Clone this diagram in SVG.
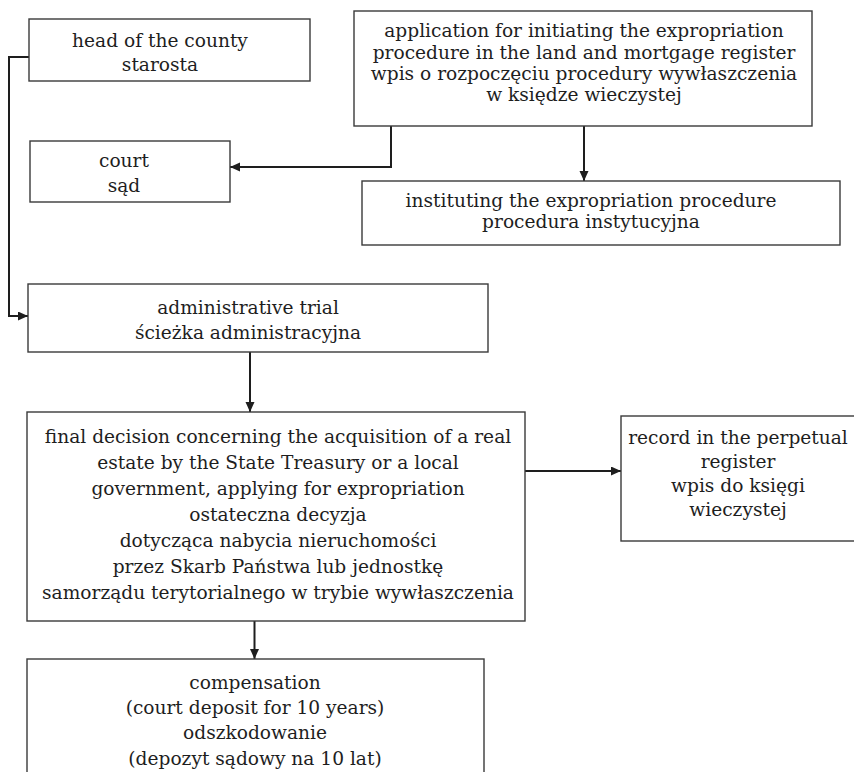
<svg xmlns="http://www.w3.org/2000/svg" width="854" height="772" viewBox="0 0 854 772">
  <style>
    .box { fill: #ffffff; stroke: #3a3a3a; stroke-width: 1.4; }
    .lbl { font-family: "DejaVu Serif", "Liberation Serif", serif; font-size: 18.6px; fill: #1e1e1e; text-anchor: middle; }
    .wire { fill: none; stroke: #1e1e1e; stroke-width: 2; marker-end: url(#head); }
  </style>
  <defs>
    <marker id="head" markerUnits="userSpaceOnUse" markerWidth="11" markerHeight="10" refX="10" refY="4.5" orient="auto">
      <path d="M0,0 L10,4.5 L0,9 z" fill="#1e1e1e"/>
    </marker>
  </defs>
  <rect width="854" height="772" fill="#ffffff"/>

  <g id="connectors">
    <path class="wire" d="M29,57 H9 V316 H28"/>
    <path class="wire" d="M391,126 V167 H230"/>
    <path class="wire" d="M584,126 V181"/>
    <path class="wire" d="M250,352 V412"/>
    <path class="wire" d="M525,471 H621"/>
    <path class="wire" d="M254.5,621 V659"/>
    <path class="wire" d="M482,508 V551"/>
  </g>

  <g id="starosta">
    <rect class="box" x="29" y="19" width="281" height="62"/>
    <text class="lbl" x="160" y="47">head of the county</text>
    <text class="lbl" x="160" y="71">starosta</text>
  </g>

  <g id="application">
    <rect class="box" x="354" y="11" width="458" height="115"/>
    <text class="lbl" x="584" y="37">application for initiating the expropriation</text>
    <text class="lbl" x="584" y="59">procedure in the land and mortgage register</text>
    <text class="lbl" x="584" y="80">wpis o rozpoczęciu procedury wywłaszczenia</text>
    <text class="lbl" x="584" y="101">w księdze wieczystej</text>
  </g>

  <g id="court">
    <rect class="box" x="30" y="141" width="200" height="61"/>
    <text class="lbl" x="124" y="167">court</text>
    <text class="lbl" x="124" y="192">sąd</text>
  </g>

  <g id="instituting">
    <rect class="box" x="362" y="181" width="478" height="64"/>
    <text class="lbl" x="591" y="207">instituting the expropriation procedure</text>
    <text class="lbl" x="591" y="228">procedura instytucyjna</text>
  </g>

  <g id="administrative">
    <rect class="box" x="28" y="284" width="460" height="68"/>
    <text class="lbl" x="248" y="314">administrative trial</text>
    <text class="lbl" x="248" y="339">ścieżka administracyjna</text>
  </g>

  <g id="decision">
    <rect class="box" x="27" y="412" width="498" height="209"/>
    <text class="lbl" x="278" y="443">final decision concerning the acquisition of a real</text>
    <text class="lbl" x="278" y="469">estate by the State Treasury or a local</text>
    <text class="lbl" x="278" y="495">government, applying for expropriation</text>
    <text class="lbl" x="278" y="521">ostateczna decyzja</text>
    <text class="lbl" x="278" y="547">dotycząca nabycia nieruchomości</text>
    <text class="lbl" x="278" y="573">przez Skarb Państwa lub jednostkę</text>
    <text class="lbl" x="278" y="599">samorządu terytorialnego w trybie wywłaszczenia</text>
  </g>

  <g id="record">
    <rect class="box" x="621" y="416" width="236" height="125"/>
    <text class="lbl" x="738" y="444">record in the perpetual</text>
    <text class="lbl" x="738" y="468">register</text>
    <text class="lbl" x="738" y="492">wpis do księgi</text>
    <text class="lbl" x="738" y="516">wieczystej</text>
  </g>

  <g id="compensation">
    <rect class="box" x="27" y="659" width="457" height="120"/>
    <text class="lbl" x="255" y="689">compensation</text>
    <text class="lbl" x="255" y="714">(court deposit for 10 years)</text>
    <text class="lbl" x="255" y="739">odszkodowanie</text>
    <text class="lbl" x="255" y="765">(depozyt sądowy na 10 lat)</text>
  </g>
</svg>
